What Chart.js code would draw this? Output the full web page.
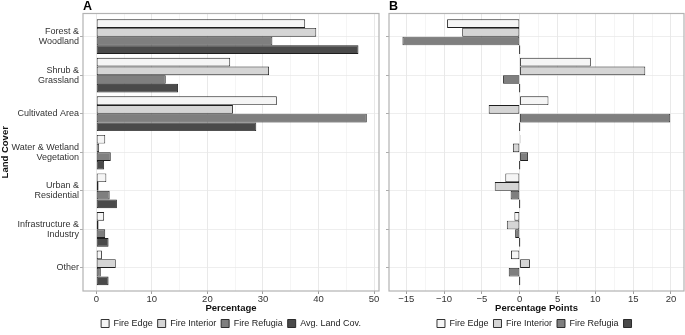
<!DOCTYPE html>
<html><head><meta charset="utf-8">
<script src="https://cdn.jsdelivr.net/npm/chart.js@4.4.1/dist/chart.umd.min.js"></script>
<style>
html,body{margin:0;padding:0;background:#fff;}
#wrap{position:relative;width:685px;height:335px;overflow:hidden;background:#fff;}
canvas{position:absolute;top:0;}
</style></head><body>
<div id="wrap">
<canvas id="cA" width="383" height="335" style="left:0"></canvas>
<canvas id="cB" width="302" height="335" style="left:383px"></canvas>
</div>
<script>
// ---------- data ----------
const categories = ["Forest &\nWoodland", "Shrub &\nGrassland", "Cultivated Area",
  "Water & Wetland\nVegetation", "Urban &\nResidential", "Infrastructure &\nIndustry", "Other"];
const seriesNames = ["Fire Edge", "Fire Interior", "Fire Refugia", "Avg. Land Cov."];

// Panel A: percentage of each land cover
const edgeA     = [37.6, 24.1, 32.5, 1.6, 1.8, 1.4, 1.0];
const interiorA = [39.6, 31.1, 24.6, 0.5, 0.4, 0.4, 3.5];
const refugiaA  = [31.7, 12.5, 48.7, 2.6, 2.4, 1.6, 0.8];
const avgA      = [47.2, 14.7, 28.8, 1.4, 3.7, 2.2, 2.2];

// Panel B: difference from average land cover (percentage points)
const edgeB     = [-9.6, 9.4, 3.8, 0.1, -1.9, -0.7, -1.15];
const interiorB = [-7.6, 16.6, -4.1, -0.9, -3.3, -1.7, 1.35];
const refugiaB  = [-15.5, -2.2, 19.9, 1.1, -1.2, -0.6, -1.45];
const avgB      = [0, 0, 0, 0, 0, 0, 0];

const ticksA = [0, 5, 10, 15, 20, 25, 30, 35, 40, 45, 50];
const ticksB = [-15, -12.5, -10, -7.5, -5, -2.5, 0, 2.5, 5, 7.5, 10, 12.5, 15, 17.5, 20];

// ---------- styling ----------
Chart.defaults.font.family = "'Liberation Sans', Arial, Helvetica, sans-serif";
Chart.defaults.color = '#222';
const FILLS = ['#f5f5f5', '#d5d5d5', '#7f7f7f', '#4a4a4a'];
const TXT = '#333';

function ds(label, vals, i, extra) {
  return Object.assign({
    label: label,
    data: vals.map((v, k) => ({x: v, y: k})),
    backgroundColor: FILLS[i],
    borderColor: '#1e1e1e',
    borderWidth: 0.9,
    borderSkipped: false,
    categoryPercentage: 0.9,
    barPercentage: 1
  }, extra || {});
}

const framePlugin = {
  id: 'frame',
  afterDraw(chart) {
    const a = chart.chartArea, c = chart.ctx;
    c.save();
    c.strokeStyle = '#b3b3b3';
    c.lineWidth = 1.2;
    c.strokeRect(a.left, a.top, a.right - a.left, a.bottom - a.top);
    c.restore();
  }
};

function yScale(showLabels) {
  return {
    type: 'linear', reverse: true, offset: false,
    min: -0.6, max: categories.length - 1 + 0.6,
    afterBuildTicks: s => { s.ticks = categories.map((c, i) => ({value: i})); },
    afterFit: s => { s.width = showLabels ? 83 : 6; },
    grid: {offset: false, color: '#e6e6e6', lineWidth: 0.7, tickColor: '#888', tickLength: 3},
    border: {display: false},
    ticks: {
      padding: 1, color: TXT, autoSkip: false,
      font: {size: 9, lineHeight: 1.08},
      callback: v => showLabels ? categories[v].split('\n') : ''
    },
    title: {
      display: showLabels, text: 'Land Cover', color: '#111',
      font: {size: 9.5, weight: 'bold', lineHeight: 1.2}, padding: {top: 0, bottom: 0}
    }
  };
}

function fmt(v) { return v < 0 ? '\u2212' + Math.abs(v) : String(v); }

function xScale(min, max, tickVals, majorStep, title) {
  const isMajor = v => Math.abs(v / majorStep - Math.round(v / majorStep)) < 1e-6;
  return {
    type: 'linear', min: min, max: max, offset: false,
    afterBuildTicks: s => { s.ticks = tickVals.map(v => ({value: v})); },
    afterFit: s => { s.height = 23; },
    grid: {
      offset: false,
      color: c => (c.tick && isMajor(c.tick.value)) ? '#e3e3e3' : '#eeeeee',
      lineWidth: c => (c.tick && isMajor(c.tick.value)) ? 0.8 : 0.6,
      tickColor: c => (c.tick && isMajor(c.tick.value)) ? '#888' : 'rgba(0,0,0,0)',
      tickLength: 3
    },
    border: {display: false},
    ticks: {
      padding: 0, color: TXT, autoSkip: false, maxRotation: 0,
      font: {size: 9.5},
      callback: v => isMajor(v) ? fmt(v) : ''
    },
    title: {
      display: true, text: title, color: '#111',
      font: {size: 9.5, weight: 'bold', lineHeight: 1.2}, padding: {top: 0, bottom: 0}
    }
  };
}

function baseOptions(letter, xs, ys, padRight) {
  return {
    indexAxis: 'y',
    responsive: false,
    animation: false,
    devicePixelRatio: 1,
    layout: {padding: {left: 0, right: padRight, top: 0, bottom: -3}},
    scales: {x: xs, y: ys},
    plugins: {
      title: {
        display: true, text: letter, align: 'start', position: 'top', fullSize: false,
        color: '#000', font: {size: 12.5, weight: 'bold', lineHeight: 1},
        padding: {top: 0, bottom: 1}
      },
      legend: {
        display: true, position: 'bottom', align: 'center', fullSize: false,
        labels: {boxWidth: 8, boxHeight: 8, padding: 5, color: '#222', font: {size: 9}}
      },
      tooltip: {enabled: false}
    }
  };
}

new Chart(document.getElementById('cA'), {
  type: 'bar',
  data: {
    datasets: [
      ds(seriesNames[0], edgeA, 0),
      ds(seriesNames[1], interiorA, 1),
      ds(seriesNames[2], refugiaA, 2),
      ds(seriesNames[3], avgA, 3)
    ]
  },
  options: baseOptions('A', xScale(-2.4, 50.9, ticksA, 10, 'Percentage'), yScale(true), 4),
  plugins: [framePlugin]
});

new Chart(document.getElementById('cB'), {
  type: 'bar',
  data: {
    datasets: [
      ds(seriesNames[0], edgeB, 0),
      ds(seriesNames[1], interiorB, 1),
      ds(seriesNames[2], refugiaB, 2),
      ds('', avgB, 3, {minBarLength: 1.2})
    ]
  },
  options: baseOptions('B', xScale(-17.28, 21.72, ticksB, 5, 'Percentage Points'), yScale(false), 1),
  plugins: [framePlugin]
});
</script>
</body></html>
